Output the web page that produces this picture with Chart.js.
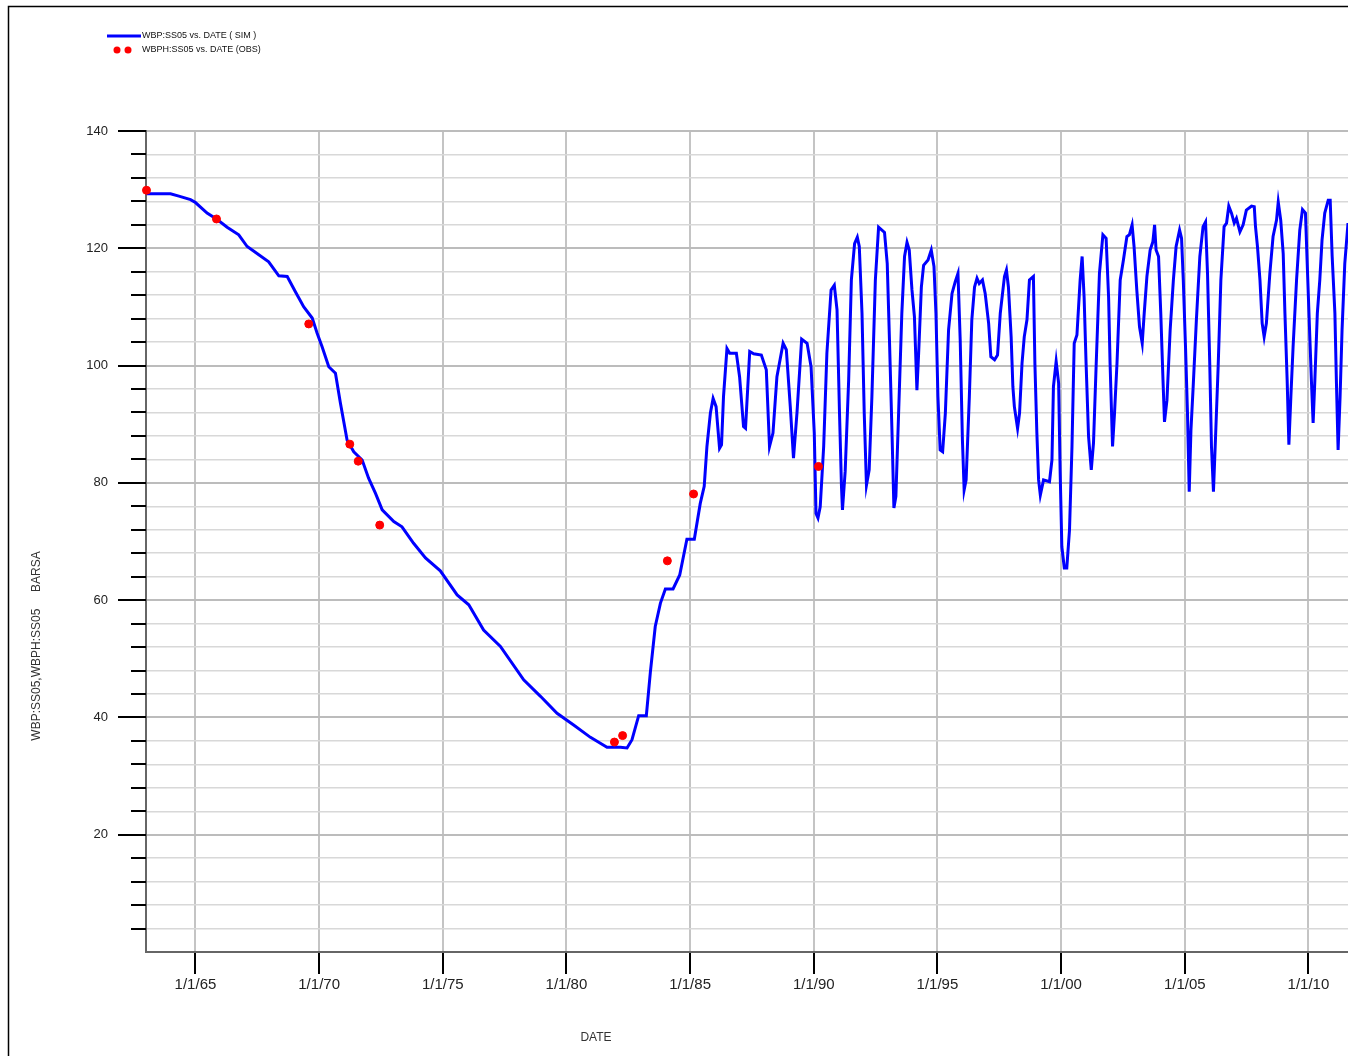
<!DOCTYPE html>
<html>
<head>
<meta charset="utf-8">
<title>WBP:SS05 vs. DATE</title>
<script src="https://cdn.jsdelivr.net/npm/chart.js@4.4.1/dist/chart.umd.min.js"></script>
<style>
  html, body { margin: 0; padding: 0; background: #fff; }
  canvas { display: block; }
</style>
</head>
<body>
<canvas id="pressureChart" width="1348" height="1056"></canvas>
<script>
// Simulated well pressure (decimal year, BARSA)
const simYears = [
  1963.02, 1963.99, 1964.33, 1964.80, 1965.00, 1965.47, 1965.88, 1966.28, 1966.75, 1967.09,
  1967.49, 1967.96, 1968.37, 1968.71, 1969.04, 1969.38, 1969.72, 1969.92, 1970.12, 1970.39,
  1970.66, 1970.86, 1971.13, 1971.40, 1971.74, 1972.00, 1972.28, 1972.55, 1973.02, 1973.35,
  1973.82, 1974.30, 1974.90, 1975.58, 1976.05, 1976.65, 1977.33, 1978.27, 1978.95, 1979.62,
  1980.29, 1980.97, 1981.64, 1982.18, 1982.45, 1982.65, 1982.92, 1983.23, 1983.39, 1983.59,
  1983.80, 1984.00, 1984.31, 1984.58, 1984.87, 1985.17, 1985.41, 1985.57, 1985.68, 1985.82,
  1985.93, 1986.05, 1986.19, 1986.27, 1986.35, 1986.49, 1986.60, 1986.87, 1987.00, 1987.16,
  1987.24, 1987.41, 1987.57, 1987.88, 1988.08, 1988.21, 1988.35, 1988.51, 1988.76, 1988.89,
  1989.05, 1989.18, 1989.32, 1989.51, 1989.73, 1989.89, 1990.02, 1990.09, 1990.17, 1990.26,
  1990.40, 1990.53, 1990.70, 1990.83, 1990.94, 1991.04, 1991.12, 1991.16, 1991.27, 1991.41,
  1991.52, 1991.65, 1991.76, 1991.84, 1991.95, 1992.04, 1992.13, 1992.24, 1992.35, 1992.49,
  1992.62, 1992.86, 1992.97, 1993.06, 1993.16, 1993.24, 1993.32, 1993.43, 1993.56, 1993.67,
  1993.77, 1993.86, 1993.97, 1994.07, 1994.17, 1994.24, 1994.35, 1994.44, 1994.62, 1994.75,
  1994.86, 1994.94, 1995.02, 1995.11, 1995.21, 1995.32, 1995.45, 1995.59, 1995.72, 1995.83,
  1995.92, 1996.01, 1996.08, 1996.16, 1996.29, 1996.39, 1996.50, 1996.60, 1996.69, 1996.82,
  1996.93, 1997.07, 1997.16, 1997.31, 1997.43, 1997.54, 1997.71, 1997.79, 1997.87, 1997.98,
  1998.05, 1998.11, 1998.24, 1998.32, 1998.42, 1998.51, 1998.62, 1998.72, 1998.88, 1998.94,
  1999.02, 1999.09, 1999.16, 1999.29, 1999.53, 1999.63, 1999.69, 1999.80, 1999.90, 1999.96,
  2000.03, 2000.13, 2000.23, 2000.34, 2000.44, 2000.53, 2000.64, 2000.77, 2000.85, 2000.93,
  2001.01, 2001.11, 2001.22, 2001.31, 2001.42, 2001.55, 2001.69, 2001.82, 2001.92, 2001.98,
  2002.08, 2002.16, 2002.26, 2002.39, 2002.52, 2002.66, 2002.76, 2002.87, 2002.95, 2003.06,
  2003.17, 2003.28, 2003.36, 2003.47, 2003.60, 2003.71, 2003.78, 2003.84, 2003.94, 2004.03,
  2004.12, 2004.18, 2004.28, 2004.41, 2004.54, 2004.65, 2004.79, 2004.87, 2004.94, 2005.03,
  2005.11, 2005.18, 2005.25, 2005.34, 2005.47, 2005.61, 2005.74, 2005.84, 2005.92, 2006.01,
  2006.08, 2006.16, 2006.24, 2006.35, 2006.46, 2006.59, 2006.69, 2006.78, 2006.89, 2007.00,
  2007.09, 2007.23, 2007.36, 2007.49, 2007.70, 2007.81, 2007.86, 2007.94, 2008.04, 2008.13,
  2008.21, 2008.30, 2008.44, 2008.57, 2008.71, 2008.78, 2008.88, 2008.98, 2009.05, 2009.14,
  2009.21, 2009.29, 2009.38, 2009.52, 2009.65, 2009.76, 2009.88, 2009.96, 2010.06, 2010.12,
  2010.19, 2010.26, 2010.36, 2010.46, 2010.55, 2010.66, 2010.80, 2010.88, 2010.96, 2011.07,
  2011.13, 2011.20, 2011.28, 2011.36, 2011.47, 2011.60
];
const simValues = [
  129.3, 129.3, 128.9, 128.3, 127.8, 126.0, 124.9, 123.6, 122.3, 120.3,
  119.1, 117.7, 115.3, 115.2, 112.6, 110.0, 108.1, 105.5, 103.2, 99.8,
  98.7, 93.6, 87.3, 85.3, 83.9, 80.8, 78.2, 75.4, 73.4, 72.5,
  69.7, 67.2, 65.0, 60.9, 59.2, 54.9, 52.1, 46.4, 43.6, 40.7,
  38.7, 36.6, 34.9, 34.9, 34.8, 36.2, 40.3, 40.3, 47.6, 55.5,
  59.5, 61.9, 61.9, 64.3, 70.4, 70.4, 76.5, 79.4, 86.2, 91.9,
  94.4, 93.0, 85.9, 86.5, 94.7, 102.9, 102.1, 102.1, 98.1, 89.6,
  89.3, 102.4, 102.0, 101.8, 99.3, 86.2, 88.5, 98.1, 103.8, 102.7,
  93.0, 84.2, 91.9, 104.5, 103.8, 99.8, 88.5, 74.8, 74.0, 75.9,
  86.2, 102.1, 112.9, 113.7, 109.5, 91.9, 79.4, 75.4, 82.0, 97.5,
  114.6, 120.8, 121.9, 120.3, 108.9, 91.9, 79.6, 82.2, 94.7, 114.6,
  123.6, 122.7, 117.4, 104.4, 89.0, 75.7, 77.7, 91.9, 108.9, 118.6,
  121.0, 119.7, 112.9, 108.3, 95.8, 102.1, 113.4, 117.1, 118.0, 119.7,
  116.9, 108.9, 94.7, 85.6, 85.3, 91.9, 106.1, 112.3, 114.3, 115.7,
  104.4, 87.3, 78.8, 80.5, 94.7, 107.8, 113.4, 114.9, 114.0, 114.6,
  112.3, 107.2, 101.5, 101.0, 101.8, 108.9, 115.2, 116.3, 113.4, 104.9,
  96.4, 93.0, 89.3, 91.9, 100.4, 104.9, 107.8, 114.6, 115.2, 100.4,
  88.5, 80.5, 77.9, 80.5, 80.2, 83.9, 96.4, 100.7, 97.0, 82.2,
  69.1, 65.5, 65.5, 72.0, 86.2, 103.8, 105.2, 114.6, 118.6, 111.7,
  100.4, 87.9, 82.2, 86.8, 100.4, 115.7, 122.3, 121.7, 111.7, 100.4,
  86.2, 91.9, 100.4, 114.6, 118.0, 122.0, 122.3, 124.0, 120.3, 112.9,
  106.6, 103.8, 108.9, 115.2, 119.7, 121.1, 124.0, 119.7, 118.6, 108.9,
  97.5, 90.4, 94.1, 106.1, 114.6, 120.3, 123.1, 121.7, 114.6, 103.2,
  91.9, 78.5, 89.0, 96.4, 107.8, 118.6, 123.7, 124.5, 115.7, 100.4,
  86.2, 78.5, 87.3, 99.8, 114.6, 123.7, 124.3, 127.2, 126.0, 124.3,
  125.1, 122.8, 124.0, 126.5, 127.2, 127.1, 123.7, 120.3, 114.6, 107.2,
  104.9, 107.2, 115.7, 122.0, 124.8, 127.9, 124.8, 119.1, 108.9, 97.5,
  86.5, 94.7, 103.2, 114.6, 123.1, 126.6, 126.0, 116.3, 104.4, 97.5,
  90.2, 97.5, 108.9, 114.6, 121.4, 126.0, 128.2, 128.2, 118.6, 108.9,
  97.5, 85.6, 94.7, 106.1, 117.4, 124.3
];

// Observed pressure points
const obsYears = [1963.02, 1965.85, 1969.58, 1971.24, 1971.58, 1972.45, 1981.94, 1982.27, 1984.08, 1985.14, 1990.19];
const obsValues = [129.9, 125.0, 107.1, 86.6, 83.7, 72.8, 35.8, 36.9, 66.7, 78.1, 82.8];

// Axes
const xTickYears = [1965, 1970, 1975, 1980, 1985, 1990, 1995, 2000, 2005, 2010];
const xRange = [1963.0, 2011.6];
const yRange = [0, 140];
const yMinorStep = 4;
const yLabelStep = 20;

const simLabel = 'WBP:SS05 vs. DATE ( SIM )';
const obsLabel = 'WBPH:SS05 vs. DATE (OBS)';
const xTitle = 'DATE';
const yTitle = 'WBP:SS05,WBPH:SS05     BARSA';

const FONT = '"Liberation Sans", Arial, sans-serif';
Chart.defaults.font.family = FONT;

function toPoints(xs, ys) {
  return xs.map((x, i) => ({ x: x, y: ys[i] }));
}

// Page frame, y-axis tick marks, axis titles and the legend
const decorPlugin = {
  id: 'decor',
  beforeDraw(chart) {
    const ctx = chart.ctx;
    ctx.save();
    ctx.fillStyle = '#fff';
    ctx.fillRect(0, 0, chart.width, chart.height);
    ctx.strokeStyle = '#000';
    ctx.lineWidth = 1.5;
    ctx.beginPath();
    ctx.moveTo(8.5, chart.height);
    ctx.lineTo(8.5, 6.5);
    ctx.lineTo(chart.width, 6.5);
    ctx.stroke();
    ctx.restore();
  },
  afterDraw(chart) {
    const ctx = chart.ctx;
    const yScale = chart.scales.y;
    const area = chart.chartArea;
    ctx.save();

    // y tick marks: long ones on labelled values
    ctx.strokeStyle = '#000';
    ctx.lineWidth = 2;
    yScale.ticks.forEach((t) => {
      if (t.value === yRange[0]) return;
      const py = Math.round(yScale.getPixelForValue(t.value));
      const len = t.value % yLabelStep === 0 ? 28 : 15;
      ctx.beginPath();
      ctx.moveTo(area.left - len, py);
      ctx.lineTo(area.left, py);
      ctx.stroke();
    });

    // axis titles
    ctx.fillStyle = '#333';
    ctx.font = '12px ' + FONT;
    ctx.textAlign = 'center';
    ctx.textBaseline = 'middle';
    ctx.fillText(xTitle, 596, 1038);
    ctx.save();
    ctx.translate(37, 646);
    ctx.rotate(-Math.PI / 2);
    ctx.fillText(yTitle, 0, 0);
    ctx.restore();

    // legend
    const sim = chart.data.datasets[1];
    const obs = chart.data.datasets[0];
    ctx.strokeStyle = sim.borderColor;
    ctx.lineWidth = 3;
    ctx.beginPath();
    ctx.moveTo(107, 36);
    ctx.lineTo(141, 36);
    ctx.stroke();
    ctx.fillStyle = obs.backgroundColor;
    [117, 128].forEach((cx) => {
      ctx.beginPath();
      ctx.arc(cx, 50, 3.5, 0, Math.PI * 2);
      ctx.fill();
    });
    ctx.fillStyle = '#111';
    ctx.font = '9px ' + FONT;
    ctx.textAlign = 'left';
    ctx.fillText(sim.label, 142, 36);
    ctx.fillText(obs.label, 142, 50);
    ctx.restore();
  }
};

const pressureChart = new Chart(document.getElementById('pressureChart').getContext('2d'), {
  type: 'line',
  data: {
    datasets: [{
      label: obsLabel,
      data: toPoints(obsYears, obsValues),
      showLine: false,
      pointStyle: 'circle',
      pointRadius: 4,
      pointBackgroundColor: '#ff0000',
      pointBorderColor: '#ff0000',
      backgroundColor: '#ff0000',
      borderColor: '#ff0000',
      clip: false,
      order: 0
    }, {
      label: simLabel,
      data: toPoints(simYears, simValues),
      borderColor: '#0000ff',
      backgroundColor: '#0000ff',
      borderWidth: 3,
      pointRadius: 0,
      tension: 0,
      fill: false,
      order: 1
    }]
  },
  options: {
    responsive: false,
    animation: false,
    layout: { autoPadding: false, padding: { top: 131, left: 0, right: 0, bottom: 0 } },
    plugins: {
      legend: { display: false },
      tooltip: { enabled: false }
    },
    scales: {
      x: {
        type: 'linear',
        min: xRange[0],
        max: xRange[1],
        afterBuildTicks: (scale) => { scale.ticks = xTickYears.map((v) => ({ value: v })); },
        afterFit: (scale) => { scale.height = 104; },
        ticks: {
          color: '#222',
          font: { size: 15 },
          padding: 2,
          maxRotation: 0,
          autoSkip: false,
          callback: (v) => '1/1/' + String(v % 100).padStart(2, '0')
        },
        grid: {
          color: '#c4c4c4',
          lineWidth: 2,
          drawTicks: true,
          tickLength: 22,
          tickColor: '#000',
          tickWidth: 2
        },
        border: { color: '#666', width: 2 }
      },
      y: {
        min: yRange[0],
        max: yRange[1],
        afterFit: (scale) => { scale.width = 146; },
        ticks: {
          stepSize: yMinorStep,
          color: '#222',
          font: { size: 13 },
          padding: 38,
          autoSkip: false,
          callback: (v) => (v % yLabelStep === 0 && v !== 0 ? v : '')
        },
        grid: {
          color: (c) => (c.tick && c.tick.value % yLabelStep === 0 ? '#bcbcbc' : '#d8d8d8'),
          lineWidth: (c) => (c.tick && c.tick.value % yLabelStep === 0 ? 2 : 1.5),
          drawTicks: false
        },
        border: { color: '#666', width: 2 }
      }
    }
  },
  plugins: [decorPlugin]
});
</script>
</body>
</html>
